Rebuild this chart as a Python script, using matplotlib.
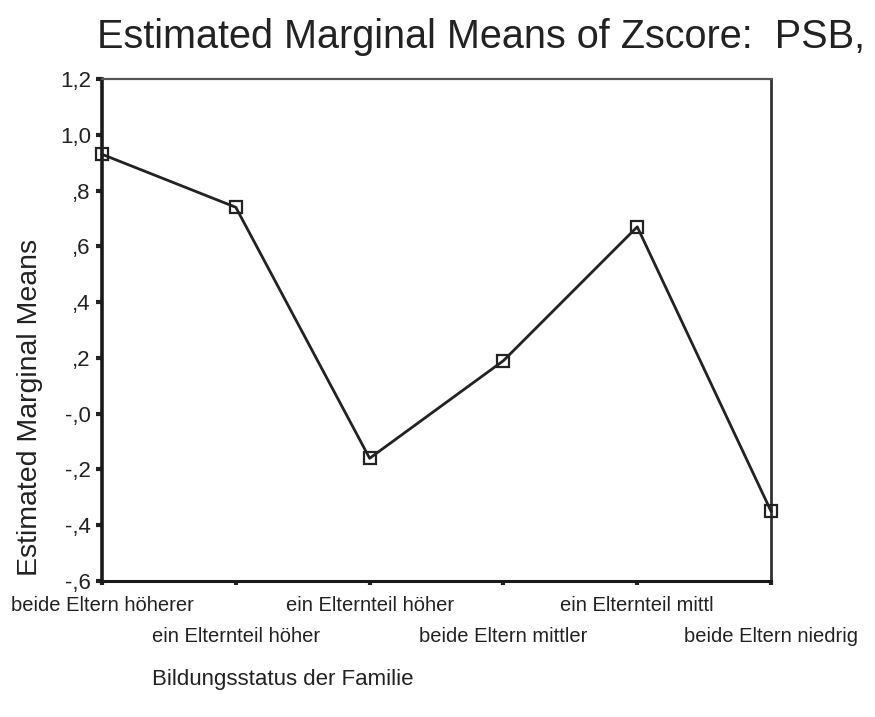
import matplotlib
matplotlib.use("Agg")
import matplotlib.pyplot as plt

# Estimated marginal means of the PSB z-score by family education status
categories = [
    "beide Eltern höherer",
    "ein Elternteil höher",
    "ein Elternteil höher",
    "beide Eltern mittler",
    "ein Elternteil mittl",
    "beide Eltern niedrig",
]
means = [0.93, 0.74, -0.16, 0.19, 0.67, -0.35]

y_ticks = [1.2, 1.0, 0.8, 0.6, 0.4, 0.2, 0.0, -0.2, -0.4, -0.6]
y_tick_labels = ["1,2", "1,0", ",8", ",6", ",4", ",2", "-,0", "-,2", "-,4", "-,6"]

plt.rcParams["font.family"] = ["Liberation Sans", "DejaVu Sans"]
ink = "#222222"

fig = plt.figure(figsize=(8.75, 7.17), dpi=100)
ax = fig.add_axes([0.1166, 0.1897, 0.7646, 0.7001])

x = list(range(len(categories)))
ax.plot(x, means, color=ink, linewidth=2.0, marker="s",
        markersize=9, markerfacecolor="none", markeredgecolor=ink,
        markeredgewidth=1.6, clip_on=False, zorder=5)

ax.set_xlim(0, len(categories) - 1)
ax.set_ylim(-0.6, 1.2)

ax.set_yticks(y_ticks)
ax.set_yticklabels(y_tick_labels, fontsize=16, color=ink)

# staggered category labels: even positions on the first row (major ticks),
# odd positions on the second row (minor ticks with a larger pad)
even = [i for i in x if i % 2 == 0]
odd = [i for i in x if i % 2 == 1]
ax.set_xticks(even)
ax.set_xticklabels([categories[i] for i in even], fontsize=14.5, color=ink)
ax.set_xticks(odd, minor=True)
ax.set_xticklabels([categories[i] for i in odd], minor=True, fontsize=14.5, color=ink)

ax.tick_params(axis="y", direction="out", length=4, width=3, pad=4, color=ink)
ax.tick_params(axis="x", which="major", direction="out", length=3, width=3, pad=8, color=ink)
ax.tick_params(axis="x", which="minor", direction="out", length=3, width=3, pad=30, color=ink)

for side, lw, col in [("left", 2.6, "#1a1a1a"), ("bottom", 2.2, "#1a1a1a"),
                      ("top", 1.6, "#555555"), ("right", 2.0, "#333333")]:
    ax.spines[side].set_linewidth(lw)
    ax.spines[side].set_color(col)

ax.set_ylabel("Estimated Marginal Means", fontsize=20.5, color=ink)
ax.yaxis.set_label_coords(-0.088, 0.345)

fig.text(0.111, 0.948, "Estimated Marginal Means of Zscore:  PSB,",
         fontsize=28.5, color=ink, ha="left", va="center")
fig.text(0.174, 0.052, "Bildungsstatus der Familie",
         fontsize=16, color=ink, ha="left", va="center")

fig.savefig("out.png", dpi=100, facecolor="white")
